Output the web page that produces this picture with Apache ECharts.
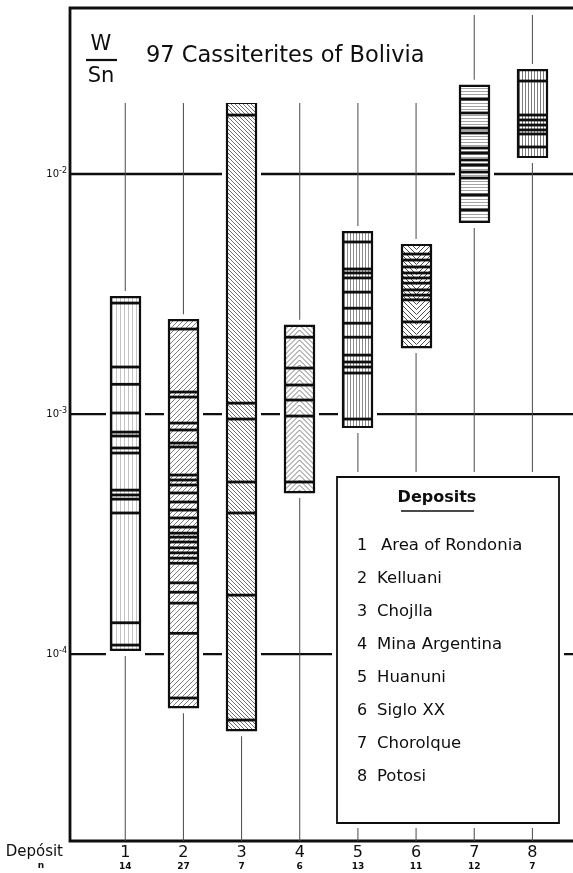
<!DOCTYPE html>
<html><head><meta charset="utf-8">
<script src="https://cdn.jsdelivr.net/npm/echarts@6/dist/echarts.min.js"></script>
<style>html,body{margin:0;padding:0;background:#fff;}#c{width:573px;height:873px;}</style>
</head><body><div id="c"></div>
<script>
// ---------------- data ----------------
const deposits = [1, 2, 3, 4, 5, 6, 7, 8];
const depositNames = ['Area of Rondonia', 'Kelluani', 'Chojlla', 'Mina Argentina', 'Huanuni', 'Siglo XX', 'Chorolque', 'Potosi'];
const sampleCounts = [14, 27, 7, 6, 13, 11, 12, 7];
const rangeHigh = [3.07e-3, 2.46e-3, 1.98e-2, 2.33e-3, 5.73e-3, 5.06e-3, 2.33e-2, 2.71e-2];
const rangeLow  = [1.04e-4, 6.01e-5, 4.82e-5, 4.73e-4, 8.83e-4, 1.90e-3, 6.31e-3, 1.177e-2];
const samples1 = [2.90e-3, 1.57e-3, 1.33e-3, 1.01e-3, 8.41e-4, 8.10e-4, 7.22e-4, 6.88e-4, 4.82e-4, 4.60e-4, 4.42e-4, 3.87e-4, 1.35e-4, 1.09e-4];
const samples2 = [2.26e-3, 1.235e-3, 1.177e-3, 9.17e-4, 8.58e-4, 7.57e-4, 7.29e-4, 5.57e-4, 5.31e-4, 5.06e-4, 4.69e-4, 4.30e-4, 3.98e-4, 3.69e-4, 3.38e-4, 3.19e-4, 3.07e-4, 2.93e-4, 2.77e-4, 2.64e-4, 2.51e-4, 2.39e-4, 1.98e-4, 1.81e-4, 1.63e-4, 1.22e-4, 6.56e-5];
const samples3 = [1.76e-2, 1.11e-3, 9.53e-4, 5.21e-4, 3.87e-4, 1.76e-4, 5.31e-5];
const samples4 = [2.09e-3, 1.554e-3, 1.321e-3, 1.144e-3, 9.81e-4, 5.21e-4];
const samples5 = [5.21e-3, 4.02e-3, 3.87e-3, 3.69e-3, 3.22e-3, 2.76e-3, 2.39e-3, 2.09e-3, 1.76e-3, 1.647e-3, 1.57e-3, 1.482e-3, 9.53e-4];
const samples6 = [4.64e-3, 4.38e-3, 4.10e-3, 3.87e-3, 3.69e-3, 3.51e-3, 3.29e-3, 3.13e-3, 2.99e-3, 2.42e-3, 2.09e-3];
const samples7 = [2.05e-2, 1.796e-2, 1.554e-2, 1.482e-2, 1.283e-2, 1.223e-2, 1.144e-2, 1.09e-2, 1.019e-2, 9.62e-3, 8.18e-3, 7.08e-3];
const samples8 = [2.44e-2, 1.761e-2, 1.679e-2, 1.600e-2, 1.526e-2, 1.468e-2, 1.296e-2];
const yTicks = [1e-4, 1e-3, 1e-2];
const yTickExponents = ['-4', '-3', '-2'];
const yMin = 1.664e-5, yMax = 0.04916;
const xMin = 0.05, xMax = 8.87;

// ---------------- styles ----------------
const FONT = "'DejaVu Sans', 'Liberation Sans', sans-serif";
const INK = '#0e0e0e';
const BAR_W = 29;

function makePattern(kind) {
  const c = document.createElement('canvas');
  let w = 6, h = 6;
  if (kind === 'vlight') { w = 4; h = 8; }
  if (kind === 'vmid' || kind === 'vdense') { w = 3; h = 6; }
  if (kind === 'horiz') { w = 6; h = 3; }
  if (kind === 'diagUp') { w = 5; h = 5; }
  if (kind === 'diagDown') { w = 4; h = 4; }
  if (kind === 'chevUp' || kind === 'chevDown') { w = BAR_W; h = 5; }
  c.width = w; c.height = h;
  const g = c.getContext('2d');
  g.fillStyle = '#fff'; g.fillRect(0, 0, w, h);
  g.lineWidth = 1;
  const seg = (a, b, cc, d) => { g.beginPath(); g.moveTo(a, b); g.lineTo(cc, d); g.stroke(); };
  if (kind === 'vlight') { g.strokeStyle = '#c4c4c4'; seg(1.5, 0, 1.5, h); }
  if (kind === 'vmid') { g.strokeStyle = '#8c8c8c'; seg(1.5, 0, 1.5, h); }
  if (kind === 'vdense') { g.strokeStyle = '#7c7c7c'; seg(1.5, 0, 1.5, h); }
  if (kind === 'horiz') { g.strokeStyle = '#a4a4a4'; seg(0, 1.5, w, 1.5); }
  if (kind === 'diagUp') { g.strokeStyle = '#7e7e7e'; seg(0, h, w, 0); seg(-1, 1, 1, -1); seg(w - 1, h + 1, w + 1, h - 1); }
  if (kind === 'diagDown') { g.strokeStyle = '#6e6e6e'; seg(0, 0, w, h); seg(-1, h - 1, 1, h + 1); seg(w - 1, -1, w + 1, 1); }
  if (kind === 'chevUp' || kind === 'chevDown') {
    g.strokeStyle = kind === 'chevUp' ? '#7a7a7a' : '#4e4e4e';
    const half = w / 2;
    for (let k = -6; k <= 6; k++) {
      g.beginPath();
      if (kind === 'chevUp') { g.moveTo(0, half + 5 * k); g.lineTo(half, 5 * k); g.lineTo(w, half + 5 * k); }
      else { g.moveTo(0, 5 * k); g.lineTo(half, half + 5 * k); g.lineTo(w, 5 * k); }
      g.stroke();
    }
  }
  return c;
}
const patternKinds = ['vlight', 'diagUp', 'diagDown', 'chevUp', 'vmid', 'chevDown', 'horiz', 'vdense'];
const patternCanvases = patternKinds.map(makePattern);

// ---------------- derived series data ----------------
const allSamples = [samples1, samples2, samples3, samples4, samples5, samples6, samples7, samples8];
const barData = deposits.map((d, i) => [d, rangeLow[i], rangeHigh[i], i]);
const sampleData = [];
allSamples.forEach((arr, i) => arr.forEach(v => sampleData.push([deposits[i], v])));
const gridData = yTicks.map((t, i) => [deposits[0], t, i]);
const stemData = deposits.map(d => [d, yTicks[1]]);

const chart = echarts.init(document.getElementById('c'), null, { renderer: 'canvas' });

const legendX = 337, legendY = 477, legendW = 222, legendH = 346;
const graphics = [
  // white area behind the title
  { type: 'rect', z: 50, shape: { x: 74, y: 12, width: 372, height: 91 }, style: { fill: '#fff' } },
  { type: 'text', z: 51, x: 101, y: 45, style: { text: 'W', font: '21px ' + FONT, fill: INK, align: 'center', verticalAlign: 'middle' } },
  { type: 'line', z: 51, shape: { x1: 86, y1: 60, x2: 117, y2: 60 }, style: { stroke: INK, lineWidth: 2.2 } },
  { type: 'text', z: 51, x: 101, y: 77, style: { text: 'Sn', font: '21px ' + FONT, fill: INK, align: 'center', verticalAlign: 'middle' } },
  { type: 'text', z: 51, x: 146, y: 56, style: { text: '97 Cassiterites of Bolivia', font: '22.5px ' + FONT, fill: INK, align: 'left', verticalAlign: 'middle' } },
  // legend box
  { type: 'rect', z: 50, shape: { x: legendX - 5, y: legendY - 5, width: legendW + 10, height: legendH + 10 }, style: { fill: '#fff' } },
  { type: 'rect', z: 51, shape: { x: legendX, y: legendY, width: legendW, height: legendH }, style: { fill: '#fff', stroke: INK, lineWidth: 1.8 } },
  { type: 'text', z: 52, x: 437, y: 498, style: { text: 'Deposits', font: 'bold 16px ' + FONT, fill: INK, align: 'center', verticalAlign: 'middle' } },
  { type: 'line', z: 52, shape: { x1: 401, y1: 511, x2: 474, y2: 511 }, style: { stroke: INK, lineWidth: 1.6 } },
  // x axis name
  { type: 'text', z: 52, x: 63, y: 852, style: { text: 'Depósit', font: '15px ' + FONT, fill: INK, align: 'right', verticalAlign: 'middle' } },
  { type: 'text', z: 52, x: 41, y: 866, style: { text: 'n', font: 'bold 9px ' + FONT, fill: INK, align: 'center', verticalAlign: 'middle' } }
];
deposits.forEach((d, i) => {
  const y = 546 + 33 * i;
  graphics.push({ type: 'text', z: 52, x: 357, y: y, style: { text: String(d), font: '16px ' + FONT, fill: INK, align: 'left', verticalAlign: 'middle' } });
  graphics.push({ type: 'text', z: 52, x: i === 0 ? 381 : 377, y: y, style: { text: depositNames[i], font: '16.5px ' + FONT, fill: INK, align: 'left', verticalAlign: 'middle' } });
});

chart.setOption({
  animation: false,
  backgroundColor: '#fff',
  grid: { left: 70, top: 8, right: -10, bottom: 32, outerBoundsMode: 'none', containLabel: false,
          show: true, borderColor: INK, borderWidth: 2.8, backgroundColor: 'transparent' },
  xAxis: {
    type: 'value', min: xMin, max: xMax,
    axisLine: { show: false }, axisTick: { show: false }, splitLine: { show: false },
    axisLabel: {
      customValues: deposits, margin: 4, color: INK,
      formatter: v => '{d|' + v + '}\n{n|' + sampleCounts[deposits.indexOf(v)] + '}',
      rich: {
        d: { fontSize: 16, fontFamily: FONT, lineHeight: 15, color: INK },
        n: { fontSize: 9, fontWeight: 'bold', fontFamily: FONT, lineHeight: 13, color: INK }
      }
    }
  },
  yAxis: {
    type: 'log', logBase: 10, min: yMin, max: yMax,
    axisLine: { show: false }, axisTick: { show: false }, splitLine: { show: false }, axisLabel: { show: false }
  },
  graphic: graphics,
  series: [
    {
      type: 'custom', name: 'gridlines', z: 1, silent: true, data: gridData, encode: { x: 0, y: 1 },
      renderItem: (params, api) => {
        const cs = params.coordSys;
        const y = api.coord([api.value(0), api.value(1)])[1];
        const idx = api.value(2);
        return { type: 'group', children: [
          { type: 'line', shape: { x1: cs.x, y1: y, x2: cs.x + cs.width, y2: y }, style: { stroke: INK, lineWidth: 2.3 } },
          { type: 'text', x: cs.x - 11, y: y + 0.5, style: { text: '10', font: '10px ' + FONT, fill: INK, align: 'right', verticalAlign: 'middle' } },
          { type: 'text', x: cs.x - 11, y: y - 3.5, style: { text: yTickExponents[idx], font: '8px ' + FONT, fill: INK, align: 'left', verticalAlign: 'middle' } }
        ] };
      }
    },
    {
      type: 'custom', name: 'stems', z: 2, silent: true, data: stemData, encode: { x: 0, y: 1 },
      renderItem: (params, api) => {
        const cs = params.coordSys;
        const x = api.coord([api.value(0), api.value(1)])[0];
        return { type: 'line', shape: { x1: x, y1: cs.y + 7, x2: x, y2: cs.y + cs.height }, style: { stroke: '#4a4a4a', lineWidth: 1 } };
      }
    },
    {
      type: 'custom', name: 'ranges', z: 3, silent: true, data: barData, encode: { x: 0, y: [1, 2] },
      renderItem: (params, api) => {
        const d = api.value(0);
        const pLow = api.coord([d, api.value(1)]);
        const pHigh = api.coord([d, api.value(2)]);
        const i = api.value(3);
        const x0 = Math.round(pLow[0] - BAR_W / 2);
        const top = pHigh[1], h = pLow[1] - pHigh[1];
        return { type: 'group', children: [
          { type: 'rect', shape: { x: x0 - 5, y: top - 6, width: BAR_W + 10, height: h + 12 }, style: { fill: '#fff' } },
          { type: 'rect', shape: { x: x0, y: top, width: BAR_W, height: h },
            style: { fill: { image: patternCanvases[i], repeat: 'repeat', x: x0, y: 0 }, stroke: INK, lineWidth: 2.2 } }
        ] };
      }
    },
    {
      type: 'custom', name: 'samples', z: 4, silent: true, data: sampleData, encode: { x: 0, y: 1 },
      renderItem: (params, api) => {
        const p = api.coord([api.value(0), api.value(1)]);
        const x0 = Math.round(p[0] - BAR_W / 2);
        return { type: 'line', shape: { x1: x0, y1: p[1], x2: x0 + BAR_W, y2: p[1] }, style: { stroke: INK, lineWidth: 2.8 } };
      }
    }
  ]
});
</script></body></html>
